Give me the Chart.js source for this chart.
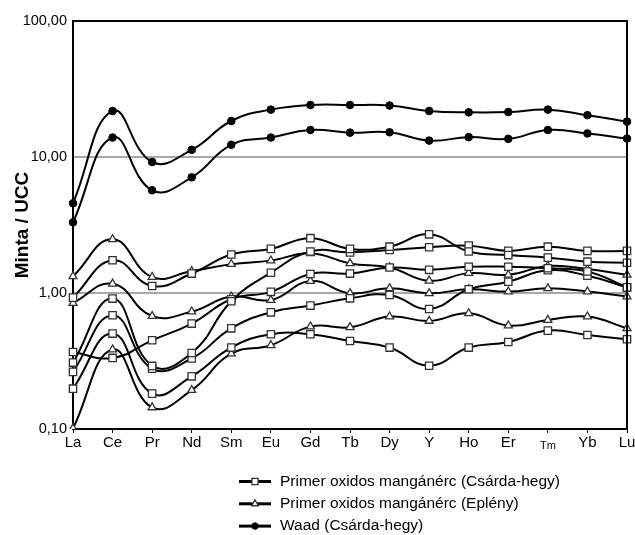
<html>
    <head>
        <script src="https://cdn.jsdelivr.net/npm/chart.js@4.4.0/dist/chart.umd.min.js"></script>
        <style>
            body {
                margin: 0px;
                background: #fff;
            }
        </style>
    </head>

    <body>
        <canvas id="chart" width="635" height="535"></canvas>
        <script>
            const elements = ['La', 'Ce', 'Pr', 'Nd', 'Sm', 'Eu', 'Gd', 'Tb', 'Dy', 'Y', 'Ho', 'Er', 'Tm', 'Yb', 'Lu']
            const yTicks = [0.1, 1, 10, 100]

            // Primer oxidos mangánérc (Csárda-hegy), 5 samples
            const csardaA = [0.925, 1.74, 1.126, 1.39, 1.92, 2.11, 2.53, 2.11, 2.19, 2.70, 2.02, 1.90, 1.82, 1.70, 1.67]
            const csardaB = [0.308, 0.91, 0.291, 0.362, 0.869, 1.41, 2.02, 1.99, 2.07, 2.17, 2.23, 2.04, 2.19, 2.04, 2.04]
            const csardaC = [0.368, 0.333, 0.449, 0.596, 0.90, 1.02, 1.38, 1.39, 1.54, 1.48, 1.56, 1.56, 1.52, 1.44, 1.10]
            const csardaD = [0.263, 0.686, 0.278, 0.33, 0.55, 0.721, 0.808, 0.914, 0.967, 0.763, 1.065, 1.21, 1.47, 1.34, 1.10]
            const csardaE = [0.198, 0.503, 0.182, 0.244, 0.397, 0.497, 0.497, 0.444, 0.397, 0.292, 0.397, 0.436, 0.529, 0.491, 0.457]

            // Primer oxidos mangánérc (Eplény), 3 samples
            const eplenyA = [1.327, 2.48, 1.31, 1.45, 1.63, 1.73, 1.96, 1.65, 1.54, 1.23, 1.40, 1.36, 1.58, 1.50, 1.36]
            const eplenyB = [0.844, 1.17, 0.677, 0.73, 0.941, 0.888, 1.225, 0.995, 1.083, 0.995, 1.065, 1.024, 1.083, 1.024, 0.941]
            const eplenyC = [0.101, 0.384, 0.144, 0.193, 0.358, 0.413, 0.566, 0.56, 0.671, 0.623, 0.709, 0.576, 0.633, 0.671, 0.55]

            // Waad (Csárda-hegy), 2 samples
            const waadA = [4.57, 21.8, 9.19, 11.3, 18.4, 22.3, 24.1, 24.1, 23.9, 21.8, 21.3, 21.4, 22.3, 20.3, 18.2]
            const waadB = [3.31, 13.9, 5.69, 7.09, 12.3, 13.9, 15.8, 15.1, 15.2, 13.2, 14.0, 13.6, 15.8, 14.9, 13.66]

            const legendItems = [
                { label: 'Primer oxidos mangánérc (Csárda-hegy)', marker: 'square' },
                { label: 'Primer oxidos mangánérc (Eplény)', marker: 'triangle' },
                { label: 'Waad (Csárda-hegy)', marker: 'dot' },
            ]

            const markers = {
                square: { pointStyle: 'rect', radius: 5.2, backgroundColor: '#fff', borderColor: '#333', borderWidth: 1.3 },
                triangle: { pointStyle: 'triangle', radius: 4.6, backgroundColor: '#fff', borderColor: '#333', borderWidth: 1.3 },
                dot: { pointStyle: 'circle', radius: 3.8, backgroundColor: '#000', borderColor: '#000', borderWidth: 1 },
            }

            const series = [
                { data: csardaA, marker: 'square' },
                { data: csardaB, marker: 'square' },
                { data: csardaC, marker: 'square' },
                { data: csardaD, marker: 'square' },
                { data: csardaE, marker: 'square' },
                { data: eplenyA, marker: 'triangle' },
                { data: eplenyB, marker: 'triangle' },
                { data: eplenyC, marker: 'triangle' },
                { data: waadA, marker: 'dot' },
                { data: waadB, marker: 'dot' },
            ]

            const frame = {
                id: 'frame',
                afterDatasetsDraw(chart) {
                    const { ctx, chartArea: a } = chart
                    ctx.save()
                    ctx.strokeStyle = '#000'
                    ctx.lineWidth = 2
                    ctx.beginPath()
                    ctx.moveTo(a.left, a.top)
                    ctx.lineTo(a.right, a.top)
                    ctx.lineTo(a.right, a.bottom)
                    ctx.stroke()
                    ctx.restore()
                },
            }

            const legendBelow = {
                id: 'legendBelow',
                afterDraw(chart) {
                    const ctx = chart.ctx
                    ctx.save()
                    legendItems.forEach((item, i) => {
                        const y = 481.5 + i * 22.3
                        ctx.strokeStyle = '#000'
                        ctx.lineWidth = 3
                        ctx.beginPath()
                        ctx.moveTo(239, y)
                        ctx.lineTo(271, y)
                        ctx.stroke()
                        const m = markers[item.marker]
                        ctx.fillStyle = m.backgroundColor
                        ctx.strokeStyle = m.borderColor
                        ctx.lineWidth = m.borderWidth
                        Chart.helpers.drawPoint(ctx, { pointStyle: m.pointStyle, radius: m.radius * 0.85, borderWidth: m.borderWidth }, 255, y)
                        ctx.fillStyle = '#000'
                        ctx.font = '15.5px "Liberation Sans", Arial, sans-serif'
                        ctx.textBaseline = 'middle'
                        ctx.textAlign = 'left'
                        ctx.fillText(item.label, 280, y)
                    })
                    ctx.restore()
                },
            }

            new Chart(document.getElementById('chart'), {
                type: 'line',
                data: {
                    labels: elements,
                    datasets: series.map((s, i) => {
                        const m = markers[s.marker]
                        return {
                            label: 'series ' + (i + 1),
                            data: s.data,
                            borderColor: '#000',
                            borderWidth: 2,
                            tension: 0.45,
                            fill: false,
                            pointStyle: m.pointStyle,
                            pointRadius: m.radius,
                            pointBackgroundColor: m.backgroundColor,
                            pointBorderColor: m.borderColor,
                            pointBorderWidth: m.borderWidth,
                        }
                    }),
                },
                options: {
                    responsive: false,
                    animation: false,
                    layout: { padding: { top: 21, right: 8, left: 0, bottom: 0 } },
                    plugins: {
                        legend: { display: false },
                        tooltip: { enabled: false },
                    },
                    scales: {
                        x: {
                            offset: false,
                            grid: { drawOnChartArea: false, drawTicks: true, tickLength: 4, color: '#000' },
                            border: { display: true, color: '#000', width: 2 },
                            ticks: {
                                color: '#000',
                                padding: 1,
                                maxRotation: 0,
                                autoSkip: false,
                                // the Tm label is set smaller in the original, sitting on the same baseline
                                font: (c) =>
                                    c.index === 12
                                        ? { family: '"Liberation Sans", Arial, sans-serif', size: 11, lineHeight: '23px' }
                                        : { family: '"Liberation Sans", Arial, sans-serif', size: 15 },
                            },
                            afterFit(s) {
                                s.height = 106
                                s.paddingLeft = 0
                                s.paddingRight = 0
                            },
                        },
                        y: {
                            type: 'logarithmic',
                            min: 0.1,
                            max: 100,
                            afterBuildTicks(s) {
                                s.ticks = yTicks.map((v) => ({ value: v }))
                            },
                            grid: { drawTicks: false, color: '#a8a8a8', lineWidth: 2 },
                            border: { display: true, color: '#000', width: 2 },
                            ticks: {
                                color: '#000',
                                padding: 6,
                                font: { family: '"Liberation Sans", Arial, sans-serif', size: 14.5 },
                                callback: (v) => v.toFixed(2).replace('.', ','),
                            },
                            title: {
                                display: true,
                                text: 'Minta / UCC',
                                color: '#000',
                                font: { family: '"Liberation Sans", Arial, sans-serif', size: 19, weight: 'bold' },
                                padding: { top: 11, bottom: 0 },
                            },
                            afterFit(s) {
                                s.width = 73
                            },
                        },
                    },
                },
                plugins: [frame, legendBelow],
            })
        </script>
    </body>
</html>
